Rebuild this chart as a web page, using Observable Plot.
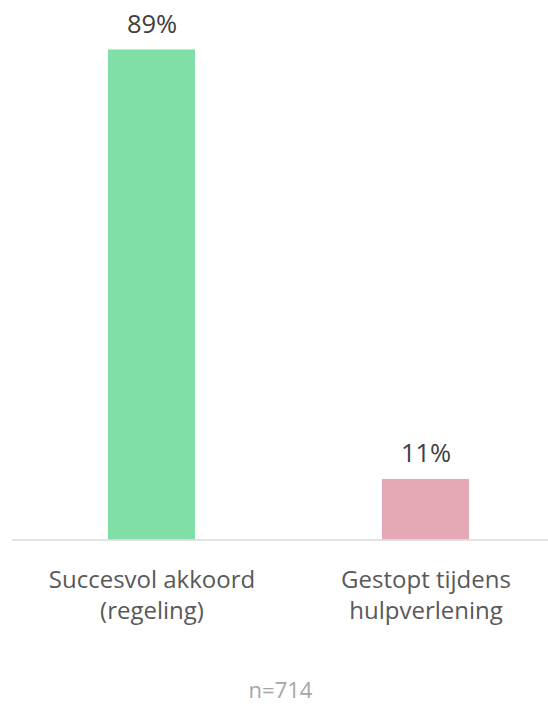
<!DOCTYPE html>
<html>
<head>
<meta charset="utf-8">
<script src="https://cdn.jsdelivr.net/npm/d3@7"></script>
<script src="https://cdn.jsdelivr.net/npm/@observablehq/plot@0.6"></script>
<style>
  html, body { margin: 0; padding: 0; background: #fff; }
  #chart svg { display: block; }
</style>
</head>
<body>
<div id="chart"></div>
<script>
const categories = ["Succesvol akkoord\n(regeling)", "Gestopt tijdens\nhulpverlening"];
const values = [89, 11];
const labels = ["89%", "11%"];
const colors = ["#7fdfa7", "#e5a9b5"];
const note = ["n=714"];

const data = categories.map((c, i) => ({category: c, value: values[i], label: labels[i]}));

const chart = Plot.plot({
  width: 548,
  height: 704,
  marginTop: 49.5,
  marginBottom: 164.5,
  marginLeft: 12,
  marginRight: 0,
  style: {fontFamily: "'Open Sans', sans-serif", color: "#595959", background: "#fff"},
  x: {domain: categories, paddingInner: 0.684, paddingOuter: 0.3166, align: 0.546, axis: null},
  y: {domain: [0, 89], axis: null},
  color: {domain: categories, range: colors},
  marks: [
    Plot.barY(data, {x: "category", y: "value", fill: "category"}),
    Plot.ruleY([0], {stroke: "#d9d9d9", strokeWidth: 1.5}),
    Plot.text(data, {x: "category", y: "value", text: "label", lineAnchor: "bottom", dy: -17, fontSize: 25.5, fill: "#404040"}),
    Plot.axisX({tickSize: 0, tickPadding: 26, fontSize: 24, lineHeight: 1.3, lineAnchor: "top", fill: "#595959", label: null}),
    Plot.text(note, {frameAnchor: "bottom", dy: 158, fontSize: 22, fill: "#a6a6a6", lineAnchor: "bottom"})
  ]
});
document.getElementById("chart").appendChild(chart);
</script>
</body>
</html>
